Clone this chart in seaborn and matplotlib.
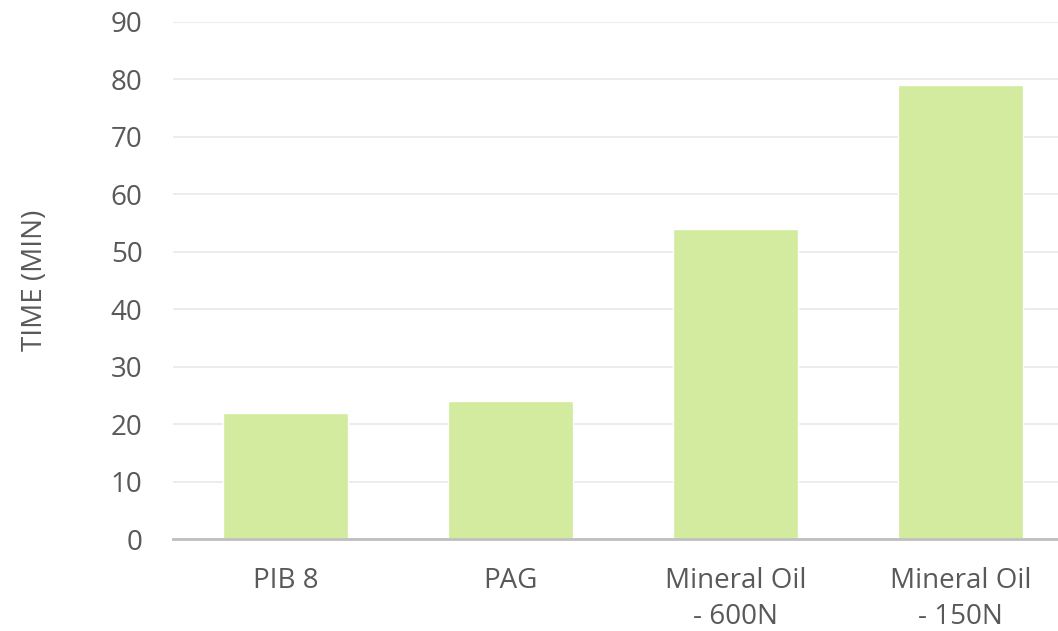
import matplotlib
matplotlib.use("Agg")
import matplotlib.pyplot as plt
import seaborn as sns
import pandas as pd

categories = ["PIB 8", "PAG", "Mineral Oil\n- 600N", "Mineral Oil\n- 150N"]
values = [22, 24, 54, 79]
yticks = list(range(0, 100, 10))

sns.set_theme(style="white")
plt.rcParams['font.family'] = ['Open Sans', 'DejaVu Sans']

df = pd.DataFrame({"cat": categories, "val": values})

fig = plt.figure(figsize=(10.58, 6.31), dpi=100)
ax = fig.add_axes([173/1058, 1 - 539/631, 900/1058, (539 - 22)/631])
sns.barplot(data=df, x="cat", y="val", color="#d3eb9f", saturation=1, width=0.555, ax=ax, zorder=2)
ax.set_xlim(-0.5, 3.5)
ax.set_ylim(0, 90)
ax.set_yticks(yticks)
ax.yaxis.grid(True, color="#ebebeb", linewidth=1.3, zorder=0)
ax.set_axisbelow(True)
for s in ["top", "right", "left"]:
    ax.spines[s].set_visible(False)
ax.spines["bottom"].set_color("#bfbfbf")
ax.spines["bottom"].set_linewidth(2)
ax.spines["bottom"].set_zorder(3)
ax.tick_params(axis="both", length=0, labelsize=20, labelcolor="#595959")
ax.tick_params(axis="x", pad=20)
ax.tick_params(axis="y", pad=22)
for lab in ax.get_xticklabels():
    lab.set_linespacing(1.4)
ax.set_xlabel("")
ax.set_ylabel("TIME (MIN)", fontsize=20, color="#595959", labelpad=44)
fig.savefig("out.png", dpi=100)
